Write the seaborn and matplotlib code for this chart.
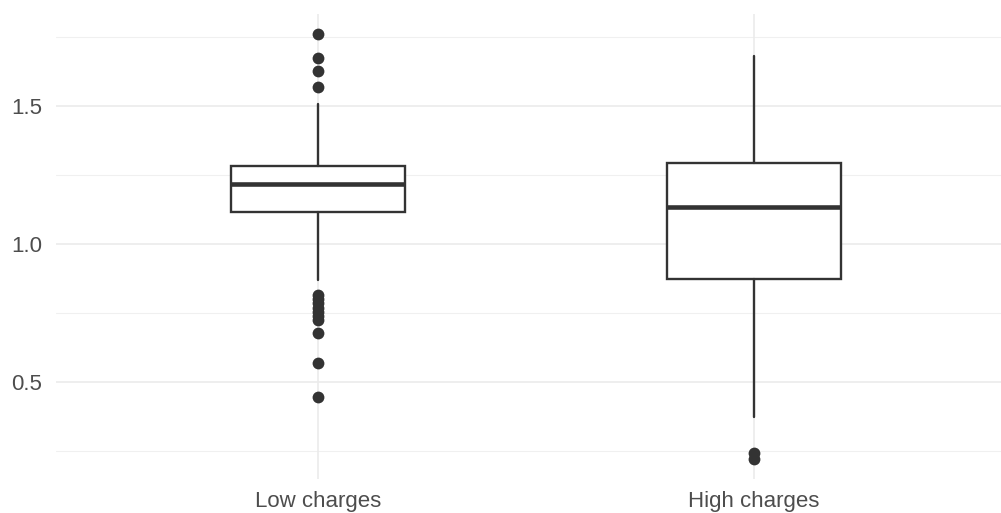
import numpy as np
import pandas as pd
import matplotlib
matplotlib.use("Agg")
import matplotlib.pyplot as plt
import seaborn as sns

categories = ["Low charges", "High charges"]
whisker_low = [0.870, 0.373]
q1 = [1.117, 0.873]
median = [1.217, 1.133]
q3 = [1.283, 1.292]
whisker_high = [1.506, 1.680]
outliers_low = [1.758, 1.672, 1.624, 1.569, 0.816, 0.800, 0.785, 0.770, 0.755, 0.740, 0.725, 0.679, 0.569, 0.446]
outliers_high = [0.244, 0.223]

y_major = [0.5, 1.0, 1.5]
y_minor = [0.25, 0.75, 1.25, 1.75]

sns.set_theme(style="white")
plt.rcParams["font.family"] = ["Liberation Sans", "DejaVu Sans"]

fig = plt.figure(figsize=(10.01, 5.13), dpi=100)
W, H = 1001, 513
ax = fig.add_axes([56 / W, (H - 479) / H, 1 - 56 / W, (479 - 14) / H])
ax.set_facecolor("white")

line_col = "#333333"
stats = []
for i, c in enumerate(categories):
    stats.append(dict(label=c, whislo=whisker_low[i], q1=q1[i], med=median[i],
                      q3=q3[i], whishi=whisker_high[i], fliers=[]))
ax.bxp(stats, positions=[0, 1], widths=0.40, showfliers=False, showcaps=False,
       patch_artist=True,
       boxprops=dict(facecolor="white", edgecolor=line_col, linewidth=1.7),
       medianprops=dict(color=line_col, linewidth=3.3, solid_capstyle="butt"),
       whiskerprops=dict(color=line_col, linewidth=1.7),
       zorder=3)

out_df = pd.DataFrame({
    "group": [categories[0]] * len(outliers_low) + [categories[1]] * len(outliers_high),
    "value": outliers_low + outliers_high,
})
sns.stripplot(data=out_df, x="group", y="value", order=categories, jitter=False,
              color=line_col, size=8.5, linewidth=0, ax=ax, zorder=4)

ax.set_xlim(-0.601, 1.567)
ax.set_ylim(0.1504, 1.8315)
ax.set_xticks([0, 1])
ax.set_xticklabels(categories)
ax.set_yticks(y_major)
ax.set_yticklabels(["0.5", "1.0", "1.5"])
ax.set_yticks(y_minor, minor=True)

ax.grid(False)
for y in y_major:
    ax.axhline(y, color="#EBEBEB", linewidth=1.2, zorder=0)
for y in y_minor:
    ax.axhline(y, color="#F0F0F0", linewidth=0.8, zorder=0)
for x in [0, 1]:
    ax.axvline(x, color="#EBEBEB", linewidth=1.2, zorder=0)

for s in ax.spines.values():
    s.set_visible(False)
ax.tick_params(axis="both", which="both", length=0, labelsize=16, colors="#4D4D4D")
ax.tick_params(axis="y", pad=10)
ax.tick_params(axis="x", pad=9)
ax.set_xlabel("")
ax.set_ylabel("")

fig.savefig("out.png", dpi=100, facecolor="white")
